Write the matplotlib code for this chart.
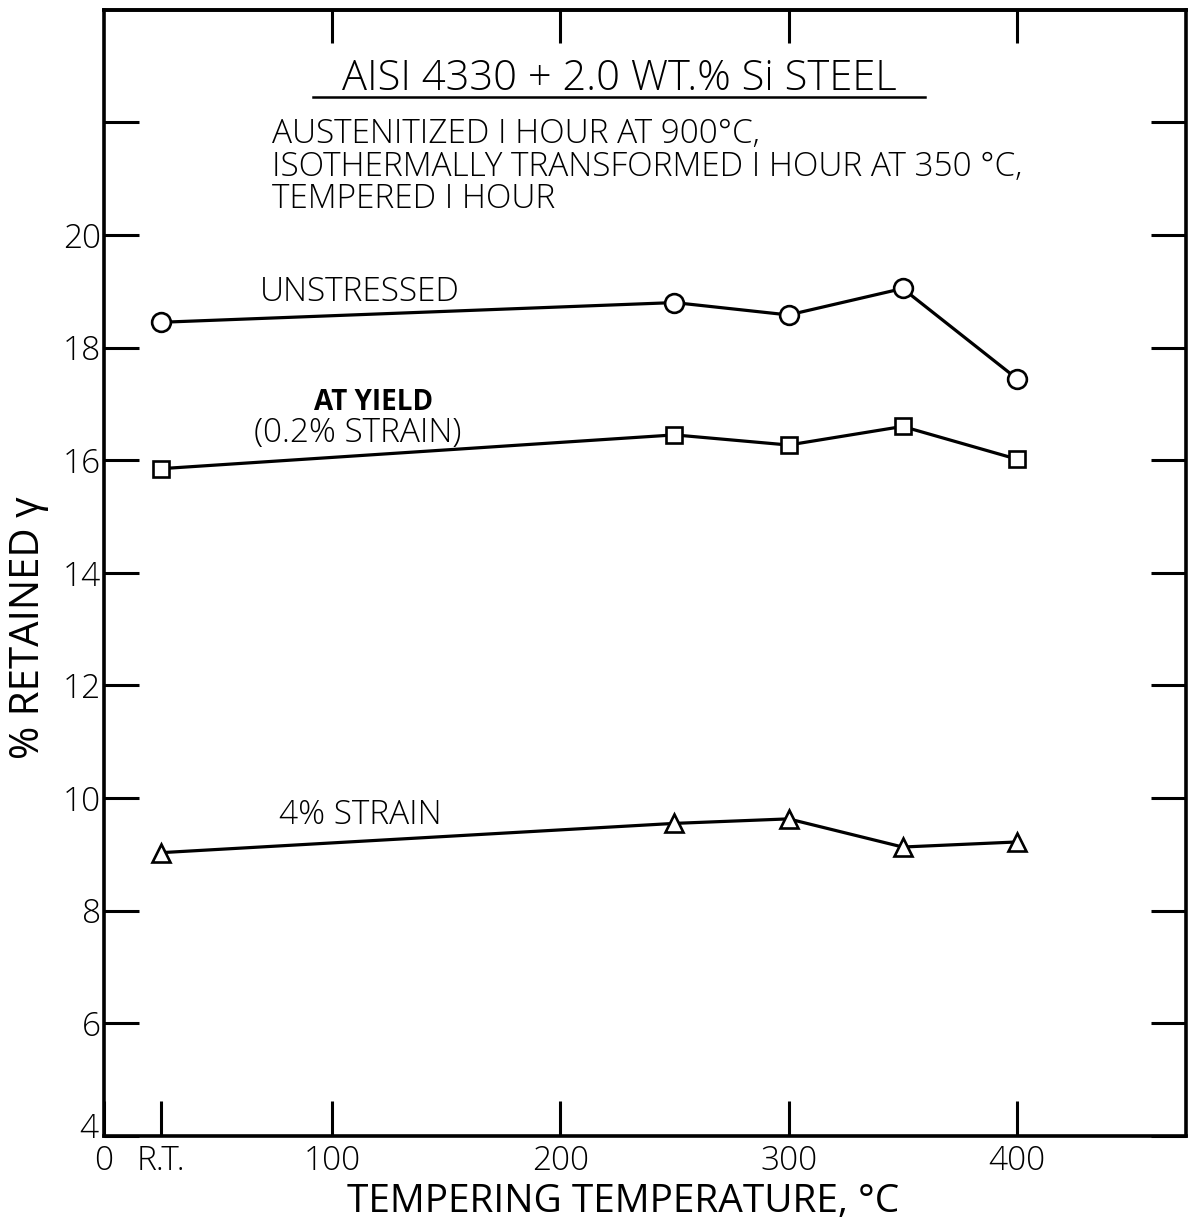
import matplotlib
matplotlib.use('Agg')
import matplotlib.pyplot as plt
import matplotlib.transforms as mtransforms
from matplotlib.lines import Line2D

# Data
temps = [25, 250, 300, 350, 400]          # R.T. taken as ~25 C
unstressed = [18.45, 18.80, 18.58, 19.05, 17.45]
at_yield = [15.85, 16.45, 16.27, 16.60, 16.02]
strain_4 = [9.03, 9.55, 9.63, 9.13, 9.22]

x_ticks = [0, 25, 100, 200, 300, 400]
x_labels = ['0', 'R.T.', '100', '200', '300', '400']
top_ticks = [100, 200, 300, 400]
y_ticks = [4, 6, 8, 10, 12, 14, 16, 18, 20, 22]
y_labels = ['4', '6', '8', '10', '12', '14', '16', '18', '20', '']

plt.rcParams['font.family'] = ['Open Sans', 'DejaVu Sans']
plt.rcParams['font.weight'] = 'light'

fig = plt.figure(figsize=(11.88, 12.24), dpi=100)
ax = fig.add_axes([0.0875, 0.072, 0.9105, 0.920])

line_kw = dict(color='black', lw=2.3, mfc='white', mec='black', mew=1.9)
ax.plot(temps, unstressed, marker='o', ms=13.5, **line_kw)
ax.plot(temps, at_yield, marker='s', ms=11.5, **line_kw)
ax.plot(temps, strain_4, marker='^', ms=12.5, **line_kw)

ax.set_xlim(0, 474)
ax.set_ylim(4, 24)

ax.set_xticks(x_ticks)
ax.set_xticklabels(x_labels)
ax.set_yticks(y_ticks)
ax.set_yticklabels(y_labels)
ax.tick_params(axis='both', direction='in', length=25, width=2.2,
               labelsize=24, top=False, right=True, labelright=False)
ax.tick_params(axis='y', pad=2)
ax.tick_params(axis='x', pad=6)

# the "4" sits a little above the corner so it clears the "0"
lbl4 = ax.get_yticklabels()[0]
lbl4.set_transform(lbl4.get_transform() +
                   mtransforms.ScaledTranslation(-2 / 72, 8 / 72, fig.dpi_scale_trans))

top = ax.secondary_xaxis('top')
top.set_xticks(top_ticks)
top.set_xticklabels([])
top.tick_params(direction='in', length=24, width=2.2)
top.spines['top'].set_linewidth(2.6)

for s in ax.spines.values():
    s.set_linewidth(2.6)

ax.set_xlabel('TEMPERING TEMPERATURE, °C', fontsize=28)
ax.xaxis.set_label_coords(0.48, -0.042)
ax.set_ylabel('% RETAINED γ', fontsize=29)
ax.yaxis.set_label_coords(-0.051, 0.451)

# Title block
ax.text(0.476, 0.939, 'AISI 4330 + 2.0 WT.% Si STEEL', transform=ax.transAxes,
        ha='center', va='center', fontsize=30)
ax.add_line(Line2D([0.193, 0.759], [0.9227, 0.9227], transform=ax.transAxes,
                   color='black', lw=1.8))
ax.text(0.155, 0.904,
        'AUSTENITIZED I HOUR AT 900°C,\n'
        'ISOTHERMALLY TRANSFORMED I HOUR AT 350 °C,\n'
        'TEMPERED I HOUR',
        transform=ax.transAxes, ha='left', va='top', fontsize=24,
        linespacing=0.95)

# Curve labels
ax.text(0.237, 0.749, 'UNSTRESSED', transform=ax.transAxes,
        ha='center', va='center', fontsize=24)
ax.text(0.249, 0.651, 'AT YIELD', transform=ax.transAxes,
        ha='center', va='center', fontsize=20, fontweight='bold')
ax.text(0.235, 0.624, '(0.2% STRAIN)', transform=ax.transAxes,
        ha='center', va='center', fontsize=24)
ax.text(0.237, 0.285, '4% STRAIN', transform=ax.transAxes,
        ha='center', va='center', fontsize=24)

fig.savefig('out.png', dpi=100)
